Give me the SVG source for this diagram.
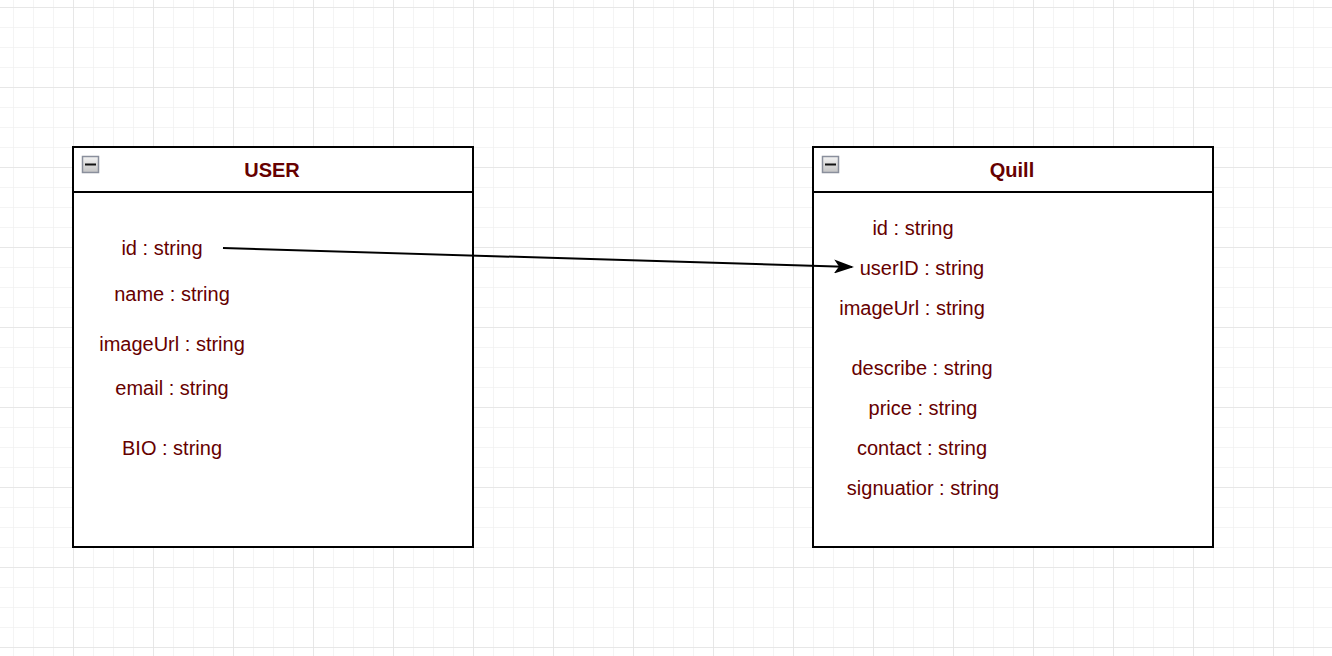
<svg xmlns="http://www.w3.org/2000/svg" width="1332" height="656" viewBox="0 0 1332 656">
<defs>
<pattern id="minor" x="13" y="7" width="20" height="20" patternUnits="userSpaceOnUse">
<path d="M0 0H20M0 0V20" fill="none" stroke="#f1f1f1" stroke-width="1.5"/>
</pattern>
<pattern id="major" x="73" y="7" width="80" height="80" patternUnits="userSpaceOnUse">
<path d="M0 0H80M0 0V80" fill="none" stroke="#e4e4e4" stroke-width="1.5"/>
</pattern>
<linearGradient id="btn" x1="0" y1="0" x2="0" y2="1">
<stop offset="0" stop-color="#f4f4f4"/>
<stop offset="1" stop-color="#c4c4c4"/>
</linearGradient>
<marker id="arrow" viewBox="0 0 20 14" refX="18" refY="7" markerWidth="20" markerHeight="14" markerUnits="userSpaceOnUse" orient="auto">
<path d="M0 0L20 7L0 14L5 7Z" fill="#000"/>
</marker>
</defs>
<style>
.box{fill:#fff;stroke:#000;stroke-width:2}
.title{font-family:"Liberation Sans",Arial,sans-serif;font-size:20px;font-weight:bold;fill:#660000;text-anchor:middle}
.field{font-family:"Liberation Sans",Arial,sans-serif;font-size:20px;fill:#660000;text-anchor:middle}
.btn{fill:url(#btn);stroke:#8a8f9c;stroke-width:1.5}
</style>
<rect width="1332" height="656" fill="#fff"/>
<rect width="1332" height="656" fill="url(#minor)"/>
<rect width="1332" height="656" fill="url(#major)"/>
<g id="user">
<rect class="box" x="73" y="147" width="400" height="400"/>
<line x1="73" y1="192" x2="473" y2="192" stroke="#000" stroke-width="2"/>
<rect class="btn" x="82.5" y="156.5" width="16" height="16"/>
<line x1="85" y1="164.5" x2="96" y2="164.5" stroke="#111" stroke-width="2"/>
<text class="title" x="272" y="177">USER</text>
<text class="field" x="162" y="255">id : string</text>
<text class="field" x="172" y="301">name : string</text>
<text class="field" x="172" y="351">imageUrl : string</text>
<text class="field" x="172" y="395">email : string</text>
<text class="field" x="172" y="455">BIO : string</text>
</g>
<g id="quill">
<rect class="box" x="813" y="147" width="400" height="400"/>
<line x1="813" y1="192" x2="1213" y2="192" stroke="#000" stroke-width="2"/>
<rect class="btn" x="822.5" y="156.5" width="16" height="16"/>
<line x1="825" y1="164.5" x2="836" y2="164.5" stroke="#111" stroke-width="2"/>
<text class="title" x="1012" y="177">Quill</text>
<text class="field" x="913" y="235">id : string</text>
<text class="field" x="922" y="275">userID : string</text>
<text class="field" x="912" y="315">imageUrl : string</text>
<text class="field" x="922" y="375">describe : string</text>
<text class="field" x="923" y="415">price : string</text>
<text class="field" x="922" y="455">contact : string</text>
<text class="field" x="923" y="495">signuatior : string</text>
</g>
<g id="connectors">
<line x1="223" y1="248" x2="852" y2="267" stroke="#000" stroke-width="2" marker-end="url(#arrow)"/>
</g>
</svg>
